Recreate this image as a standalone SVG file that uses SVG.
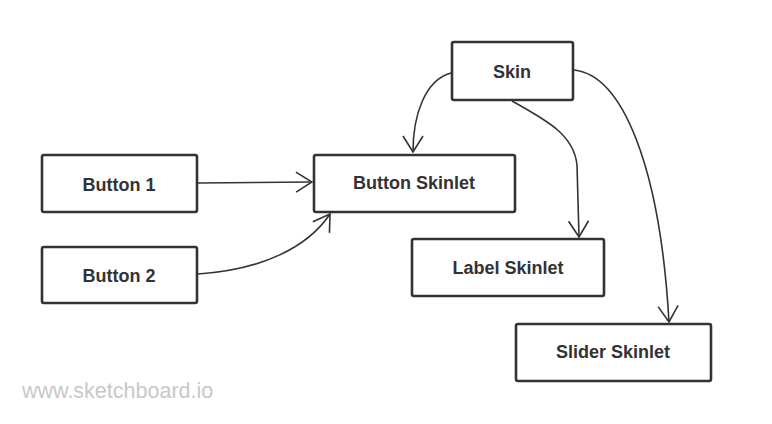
<svg xmlns="http://www.w3.org/2000/svg" width="772" height="424" viewBox="0 0 772 424">
<defs>
<style>
.box{fill:#fff;stroke:#333;stroke-width:2.6;stroke-linejoin:round}
.lbl{font-family:"Liberation Sans",Arial,sans-serif;font-weight:bold;font-size:18px;fill:#333;text-anchor:middle}
.edge{fill:none;stroke:#333;stroke-width:1.6}
.wm{font-family:"Liberation Sans",Arial,sans-serif;font-size:21.5px;fill:#c8c8c8}
</style>
<marker id="arr" viewBox="0 0 18 22" refX="17" refY="11" markerWidth="18" markerHeight="22" markerUnits="userSpaceOnUse" orient="auto">
<path d="M1,1 L17,11 L1,21" fill="none" stroke="#333" stroke-width="1.6"/>
</marker>
</defs>
<rect width="772" height="424" fill="#fff"/>
<g id="connectors">
<path class="edge" d="M198,183 L312,182" marker-end="url(#arr)"/>
<path class="edge" d="M198,274 C262,270 308,247 330,214" marker-end="url(#arr)"/>
<path class="edge" d="M451,73 C425,80 413,115 413,152" marker-end="url(#arr)"/>
<path class="edge" d="M512,101 C550,122 574,136 577,165 L579,237" marker-end="url(#arr)"/>
<path class="edge" d="M574,70 C622,75 660,165 669,322" marker-end="url(#arr)"/>
</g>
<g id="skin"><rect class="box" x="452" y="42" width="121" height="58" rx="2"/><text class="lbl" x="512" y="78">Skin</text></g>
<g id="button-skinlet"><rect class="box" x="314" y="155" width="201" height="57" rx="2"/><text class="lbl" x="414" y="189">Button Skinlet</text></g>
<g id="button1"><rect class="box" x="42" y="155" width="155" height="57" rx="2"/><text class="lbl" x="119" y="191">Button 1</text></g>
<g id="button2"><rect class="box" x="42" y="247" width="155" height="56" rx="2"/><text class="lbl" x="119" y="282">Button 2</text></g>
<g id="label-skinlet"><rect class="box" x="412" y="239" width="192" height="57" rx="2"/><text class="lbl" x="508" y="274">Label Skinlet</text></g>
<g id="slider-skinlet"><rect class="box" x="516" y="324" width="195" height="57" rx="2"/><text class="lbl" x="613" y="358">Slider Skinlet</text></g>
<text class="wm" x="22" y="398">www.sketchboard.io</text>
</svg>
